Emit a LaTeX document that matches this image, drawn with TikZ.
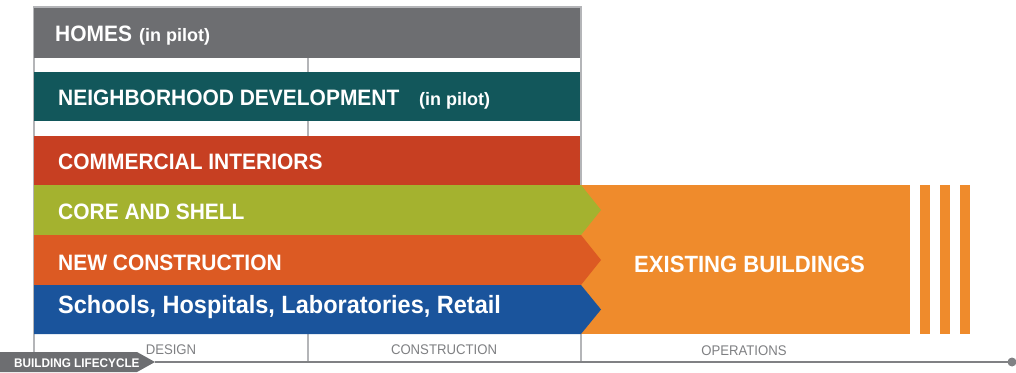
\documentclass[tikz,border=0pt]{standalone}
\usepackage{fontspec}
\setmainfont{Liberation Sans}[FakeStretch=0.94]
\newfontfamily\plainfont{Liberation Sans}
\definecolor{homesgray}{HTML}{6D6E71}
\definecolor{ndteal}{HTML}{12575B}
\definecolor{cired}{HTML}{C73F22}
\definecolor{csgreen}{HTML}{A4B22F}
\definecolor{ncorange}{HTML}{DC5A23}
\definecolor{schblue}{HTML}{1A549C}
\definecolor{ebor}{HTML}{EF8B2C}
\definecolor{gridgray}{HTML}{B4B5B8}
\definecolor{phasegray}{HTML}{7E7F82}
\definecolor{linegray}{HTML}{808184}
\definecolor{taggray}{HTML}{6D6E71}
\begin{document}
\begin{tikzpicture}[x=1pt,y=-1pt,
  grid/.style={draw=gridgray, line width=1.5pt},
  bartext/.style={anchor=base west, inner sep=0pt, text=white, font=\bfseries\fontsize{22.3}{24}\selectfont},
  bigtext/.style={anchor=base west, inner sep=0pt, text=white, font=\bfseries\fontsize{25}{27}\selectfont},
  pilot/.style={anchor=base west, inner sep=0pt, text=white, font=\plainfont\bfseries\fontsize{18}{20}\selectfont},
  phase/.style={anchor=base, inner sep=0pt, text=phasegray, font=\fontsize{14}{16}\selectfont},
  tagtext/.style={anchor=base west, inner sep=0pt, text=white, font=\bfseries\fontsize{12.5}{14}\selectfont},
  timeline/.style={draw=linegray, line width=2.5pt}
]
\useasboundingbox (0,0) rectangle (1016,372);
% grid of the lifecycle phases
\draw[grid] (34,352) -- (34,7) -- (581,7) -- (581,362);
\draw[grid] (308,7) -- (308,362);
% timeline
\coordinate (tagtip) at (155,362);
\coordinate (lineend) at (1012,362);
\draw[timeline] (tagtip) -- (lineend);
\fill[linegray] (lineend) circle (4.5);
% tag
\fill[taggray] (0,352) -- (137,352) -- (155,362) -- (137,372) -- (0,372) -- cycle;
\node[tagtext] (tag) at (14,367) {BUILDING LIFECYCLE};
% top bars
\fill[homesgray] (34,8) rectangle (580,58);
\fill[ndteal] (34,72) rectangle (580,121);
\fill[cired] (34,136) rectangle (580,185);
% existing buildings
\fill[ebor] (581,185) rectangle (910,334);
\fill[ebor] (920,185) rectangle (930,334);
\fill[ebor] (940,185) rectangle (950,334);
\fill[ebor] (960,185) rectangle (970,334);
% arrow bars
\fill[csgreen] (34,185) -- (581,185) -- (601,210) -- (581,235) -- (34,235) -- cycle;
\fill[ncorange] (34,235) -- (581,235) -- (601,260) -- (581,285) -- (34,285) -- cycle;
\fill[schblue] (34,285) -- (581,285) -- (601,309.5) -- (581,334) -- (34,334) -- cycle;
% labels
\node[bartext] (homes) at (55,41) {HOMES};
\node[pilot] (homesnote) at (139,41) {(in pilot)};
\node[bartext] (nd) at (58,105) {NEIGHBORHOOD DEVELOPMENT};
\node[pilot] (ndnote) at (419,105) {(in pilot)};
\node[bartext] (ci) at (58,169) {COMMERCIAL INTERIORS};
\node[bartext] (cs) at (58,219) {CORE AND SHELL};
\node[bartext] (nc) at (58,270) {NEW CONSTRUCTION};
\node[bigtext] (sch) at (58,313) {Schools, Hospitals, Laboratories, Retail};
\node[bartext, font=\bfseries\fontsize{23.5}{26}\selectfont] (eb) at (634,272) {EXISTING BUILDINGS};
% phases
\node[phase] (design) at (171,354) {DESIGN};
\node[phase] (construction) at (444,354) {CONSTRUCTION};
\node[phase] (operations) at (744,355) {OPERATIONS};
\end{tikzpicture}
\end{document}
